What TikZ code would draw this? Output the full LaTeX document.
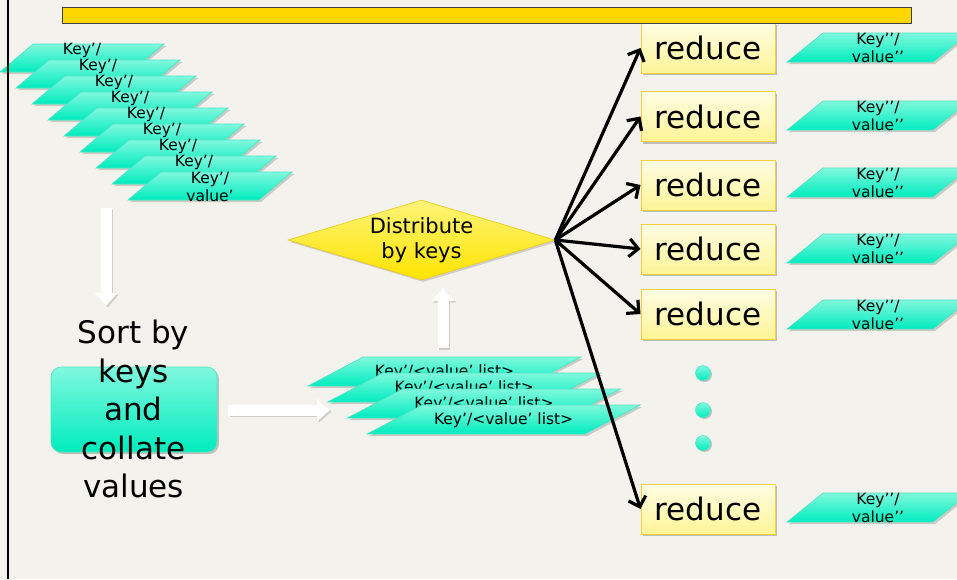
\documentclass[tikz,border=0pt]{standalone}
\usepackage{fontspec}
\setmainfont{DejaVu Sans}
\usetikzlibrary{arrows.meta,shapes.geometric,shadows}
\definecolor{bgc}{RGB}{243,242,236}
\definecolor{aquaT}{RGB}{128,248,222}
\definecolor{aquaB}{RGB}{0,236,190}
\definecolor{aquaE}{RGB}{80,228,195}
\definecolor{barc}{RGB}{255,215,0}
\definecolor{redT}{RGB}{255,253,228}
\definecolor{redB}{RGB}{255,244,150}
\definecolor{redE}{RGB}{245,208,60}
\definecolor{diaT}{RGB}{255,243,120}
\definecolor{diaB}{RGB}{255,228,0}
\definecolor{diaE}{RGB}{240,200,20}
\definecolor{shd}{RGB}{205,204,198}
% parallelogram: #1 name, #2 x bottom-left, #3 y top, #4 width, #5 height, #6 slant, #7 text, #8 text y offset
\newcommand\kvpara[8]{%
  \fill[black,opacity=0.16] ({#2+2},{#3+#5+2}) -- ({#2+#4+2},{#3+#5+2}) -- ({#2+#4+#6+2},{#3+2}) -- ({#2+#6+2},{#3+2}) -- cycle;
  \path[top color=aquaT,bottom color=aquaB,draw=aquaE,line width=0.6pt] (#2,{#3+#5}) -- ({#2+#4},{#3+#5}) -- ({#2+#4+#6},#3) -- ({#2+#6},#3) -- cycle;
  \node[kvtext] (#1) at ({#2+#6/2+#4/2},{#3+#8}) {#7};}
\begin{document}
\begin{tikzpicture}[x=1pt,y=-1pt,
  kvtext/.style={font=\fontsize{15.5}{18}\selectfont, align=center, inner sep=0pt},
  reducebox/.style={rectangle, draw=redE, line width=1pt, top color=redT, bottom color=redB,
    minimum width=134pt, minimum height=50pt, inner sep=0pt, font=\fontsize{31}{36}\selectfont,
    drop shadow={shadow xshift=2pt, shadow yshift=-2pt, opacity=0.22, fill=black}},
  fan/.style={line width=3.2pt, -{Straight Barb[length=9pt,width=18pt]}},
  whitearrow/.style={draw=white, line width=11pt, -{Triangle[length=13pt,width=22pt]}},
  arrowshadow/.style={draw=shd, line width=11pt, -{Triangle[length=13pt,width=22pt]}},
  dotnode/.style={circle, minimum size=15pt, inner sep=0pt, top color=aquaT, bottom color=aquaB,
    draw=aquaE, line width=0.5pt, drop shadow={shadow xshift=1.5pt, shadow yshift=-1.5pt, opacity=0.2, fill=black}}
]
\useasboundingbox (0,0) rectangle (957,579);
\fill[bgc] (0,0) rectangle (957,579);

% Key'/value' stack (only the first line of the upper ones shows)
\foreach \i in {0,...,7}{
  \pgfmathsetmacro\xx{16*\i}
  \pgfmathsetmacro\yy{44+16*\i}
  \kvpara{k\i}{\xx}{\yy}{131}{28}{33}{Key’/}{6.5}
}
\kvpara{k8}{128}{172}{131}{28}{33}{Key’/\\value’}{15}

% Key'/<value' list> stack
\foreach \i in {0,...,3}{
  \pgfmathsetmacro\xx{308+19.7*\i}
  \pgfmathsetmacro\yy{357+16*\i}
  \kvpara{l\i}{\xx}{\yy}{218}{29}{55}{Key’/<value’ list>}{15}
}

% diamond
\node[diamond, minimum width=267pt, minimum height=80pt, inner sep=0pt, shape aspect=3.34,
  top color=diaT, bottom color=diaB, draw=diaE, line width=0.6pt, align=center,
  font=\fontsize{21}{25}\selectfont,
  drop shadow={shadow xshift=2pt, shadow yshift=-2pt, opacity=0.15, fill=black}]
  (dist) at (421.5,240) {Distribute\\by keys};

% reduce boxes
\node[reducebox] (red1) at (708,48) {reduce};
\node[reducebox] (red2) at (708,116.5) {reduce};
\node[reducebox] (red3) at (708,185) {reduce};
\node[reducebox] (red4) at (708,249) {reduce};
\node[reducebox] (red5) at (708,314) {reduce};
\node[reducebox] (red6) at (708,509) {reduce};

% fan arrows
\foreach \i in {1,...,6}{
  \draw[fan] (dist.east) -- (red\i.west);
}

% outputs
\kvpara{o1}{787}{33}{146}{29}{36}{Key’’/\\value’’}{15}
\kvpara{o2}{787}{101}{146}{29}{36}{Key’’/\\value’’}{15}
\kvpara{o3}{787}{168}{146}{29}{36}{Key’’/\\value’’}{15}
\kvpara{o4}{787}{234}{146}{29}{36}{Key’’/\\value’’}{15}
\kvpara{o5}{787}{300}{146}{29}{36}{Key’’/\\value’’}{15}
\kvpara{o6}{787}{493}{146}{29}{36}{Key’’/\\value’’}{15}

% dots
\node[dotnode] (d1) at (703,373) {};
\node[dotnode] (d2) at (703,410) {};
\node[dotnode] (d3) at (703,443) {};

% sort box and text
\node[rectangle, rounded corners=10pt, minimum width=166pt, minimum height=85pt,
  top color=aquaT, bottom color=aquaB, draw=aquaE, line width=0.6pt,
  drop shadow={shadow xshift=2pt, shadow yshift=-2pt, opacity=0.2, fill=black}]
  (sortbox) at (134,409.5) {};
\node[align=center, inner sep=0pt, font=\fontsize{31}{38.5}\selectfont]
  (sort) at (133.5,409) {Sort by\\keys\\and\\collate\\values};

% white block arrows
\coordinate (a1s) at (106,208);
\coordinate (a1e) at (106,306);
\coordinate (a2s) at (228,410);
\coordinate (a2e) at (330,410);
\coordinate (a3s) at (443,348);
\coordinate (a3e) at (443,288);
\foreach \n in {1,2,3}{
  \draw[arrowshadow] ([xshift=1.5pt,yshift=-1.5pt]a\n s) -- ([xshift=1.5pt,yshift=-1.5pt]a\n e);
  \draw[whitearrow] (a\n s) -- (a\n e);
}

% top bar
\node[rectangle, draw=black!75, line width=0.8pt, fill=barc, minimum width=849pt,
  minimum height=16pt, inner sep=0pt] (bar) at (487,15) {};

% left border
\draw[line width=2pt] (8,0) -- (8,579);
\end{tikzpicture}
\end{document}
